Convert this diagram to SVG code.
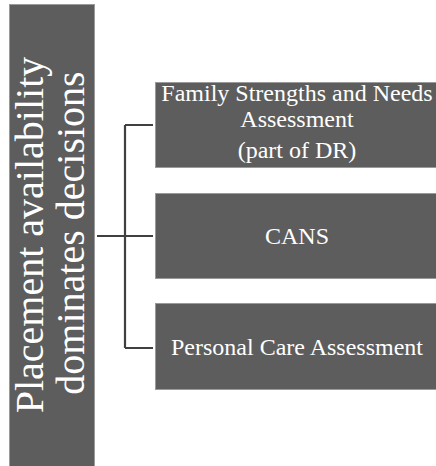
<svg xmlns="http://www.w3.org/2000/svg" width="436" height="466" viewBox="0 0 436 466">
<style>
.box{fill:#5d5d5d;stroke:#9a9a9a;stroke-width:1}
.t{font-family:"Liberation Serif","Times New Roman",serif;fill:#ffffff;text-anchor:middle}
.big{font-size:40px}
.sm{font-size:24px}
.conn{fill:none;stroke:#404040;stroke-width:2.2}
</style>
<rect width="436" height="466" fill="#ffffff"/>
<g id="connectors">
<path class="conn" d="M97,236 H125 M125,125 V348 M125,125 H153 M125,236 H153 M125,348 H153"/>
</g>
<g id="root">
<rect class="box" x="9.5" y="4.5" width="85" height="466"/>
<text class="t big" transform="translate(43,235) rotate(-90)">Placement availability</text>
<text class="t big" transform="translate(84,233) rotate(-90)">dominates decisions</text>
</g>
<g id="fsna">
<rect class="box" x="155.5" y="82.5" width="290" height="85"/>
<text class="t sm" x="297" y="101">Family Strengths and Needs</text>
<text class="t sm" x="297" y="127">Assessment</text>
<text class="t sm" x="297" y="158">(part of DR)</text>
</g>
<g id="cans">
<rect class="box" x="155.5" y="193.5" width="290" height="85"/>
<text class="t sm" x="297" y="244">CANS</text>
</g>
<g id="pca">
<rect class="box" x="155.5" y="303.5" width="290" height="86"/>
<text class="t sm" x="297" y="355">Personal Care Assessment</text>
</g>
</svg>
